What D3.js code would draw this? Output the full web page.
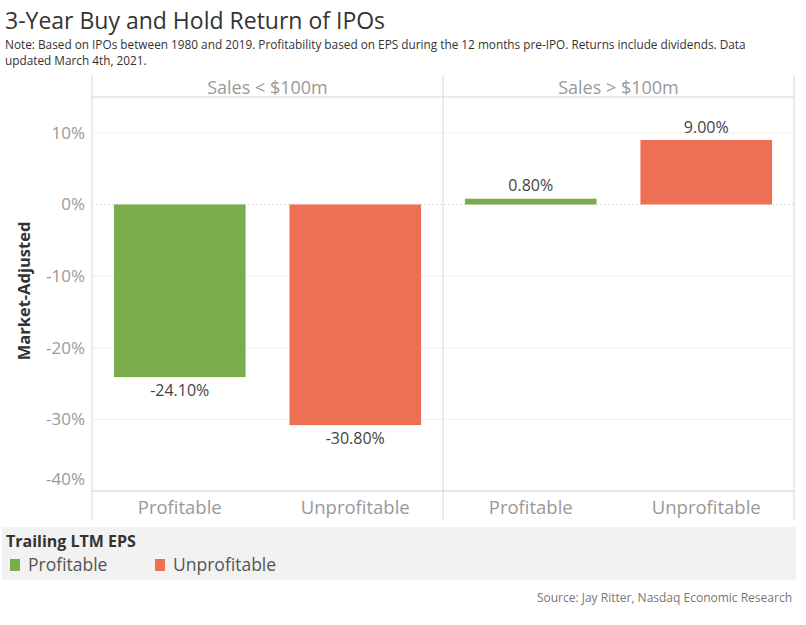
<!DOCTYPE html>
<html>
<head>
<meta charset="utf-8">
<script src="https://cdn.jsdelivr.net/npm/d3@7"></script>
<style>
  body { margin: 0; background: #fff; }
  svg { font-family: "Open Sans", sans-serif; }
</style>
</head>
<body>
<svg id="chart" width="806" height="625"></svg>
<script>
// Chart data
const panels = ["Sales < $100m", "Sales > $100m"];
const categories = ["Profitable", "Unprofitable"];
const returnsByPanel = [
    [-24.1, -30.8],   // Sales < $100m
    [0.8, 9.0]        // Sales > $100m
];
const yTicks = [10, 0, -10, -20, -30, -40];
const colors = ["#7aab4c", "#ed7055"];

const svg = d3.select("#chart");

const plotTop = 97, plotBottom = 491, plotLeft = 92, plotRight = 794;

const y = d3.scaleLinear().domain([-40, 15]).range([plotBottom, plotTop]);
const xPanel = d3.scaleBand().domain(panels).range([plotLeft, plotRight]);
const xCat = d3.scaleBand()
    .domain(categories)
    .range([0, xPanel.bandwidth()])
    .paddingInner(0.25)
    .paddingOuter(0.125);

// Title and note
svg.append("text")
    .attr("x", 5).attr("y", 29)
    .style("font-size", "23px")
    .attr("fill", "#333")
    .text("3-Year Buy and Hold Return of IPOs");

const note = [
    "Note: Based on IPOs between 1980 and 2019. Profitability based on EPS during the 12 months pre-IPO. Returns include dividends. Data",
    "updated March 4th, 2021."
];
svg.selectAll(".note").data(note).enter().append("text")
    .attr("class", "note")
    .attr("x", 5)
    .attr("y", (d, i) => 49 + i * 16)
    .style("font-size", "11.8px")
    .attr("fill", "#333")
    .text(d => d);

// Gridlines
svg.append("g").selectAll("line")
    .data(yTicks.filter(t => t !== 0))
    .enter().append("line")
    .attr("x1", plotLeft).attr("x2", plotRight)
    .attr("y1", d => y(d)).attr("y2", d => y(d))
    .attr("stroke", "#f0f0f0");

svg.append("line")
    .attr("x1", plotLeft).attr("x2", plotRight)
    .attr("y1", y(0)).attr("y2", y(0))
    .attr("stroke", "#ddd")
    .attr("stroke-dasharray", "2,2");

// Panel frame lines
[plotLeft, xPanel(panels[1]), plotRight].forEach(xv => {
    svg.append("line")
        .attr("x1", xv).attr("x2", xv)
        .attr("y1", 75).attr("y2", 520)
        .attr("stroke", "#d6d6d6");
});
[plotTop, plotBottom].forEach(yv => {
    svg.append("line")
        .attr("x1", plotLeft).attr("x2", plotRight)
        .attr("y1", yv).attr("y2", yv)
        .attr("stroke", "#d6d6d6");
});

// Y axis labels
svg.append("g").selectAll("text")
    .data(yTicks)
    .enter().append("text")
    .attr("x", 85)
    .attr("y", d => d === -40 ? y(d) - 12 : y(d))
    .attr("dy", "0.35em")
    .attr("text-anchor", "end")
    .style("font-size", "17px")
    .attr("fill", "#999")
    .text(d => d + "%");

svg.append("text")
    .attr("transform", `translate(30, ${(plotTop + plotBottom) / 2 - 3}) rotate(-90)`)
    .attr("text-anchor", "middle")
    .style("font-size", "16.5px")
    .style("font-weight", "bold")
    .attr("fill", "#333")
    .text("Market-Adjusted");

// Panels
panels.forEach((panel, pi) => {
    const g = svg.append("g").attr("transform", `translate(${xPanel(panel)},0)`);

    g.append("text")
        .attr("x", xPanel.bandwidth() / 2)
        .attr("y", 88)
        .attr("dy", "0.35em")
        .attr("text-anchor", "middle")
        .style("font-size", "18px")
        .attr("fill", "#999")
        .text(panel);

    const rows = categories.map((c, ci) => ({ cat: c, value: returnsByPanel[pi][ci], color: colors[ci] }));

    g.selectAll(".bar").data(rows).enter().append("rect")
        .attr("class", "bar")
        .attr("x", d => xCat(d.cat))
        .attr("width", xCat.bandwidth())
        .attr("y", d => y(Math.max(0, d.value)))
        .attr("height", d => Math.abs(y(d.value) - y(0)))
        .attr("fill", d => d.color);

    g.selectAll(".val").data(rows).enter().append("text")
        .attr("class", "val")
        .attr("x", d => xCat(d.cat) + xCat.bandwidth() / 2)
        .attr("y", d => d.value < 0 ? y(d.value) + 13 : y(d.value) - 13)
        .attr("dy", "0.35em")
        .attr("text-anchor", "middle")
        .style("font-size", "16px")
        .attr("fill", "#444")
        .text(d => d.value.toFixed(2) + "%");

    g.selectAll(".cat").data(categories).enter().append("text")
        .attr("class", "cat")
        .attr("x", d => xCat(d) + xCat.bandwidth() / 2)
        .attr("y", 508)
        .attr("dy", "0.35em")
        .attr("text-anchor", "middle")
        .style("font-size", "18.5px")
        .attr("fill", "#999")
        .text(d => d);
});

// Legend
svg.append("rect")
    .attr("x", 2).attr("y", 527)
    .attr("width", 794).attr("height", 53)
    .attr("fill", "#f2f2f2");

svg.append("text")
    .attr("x", 6).attr("y", 541)
    .attr("dy", "0.35em")
    .style("font-size", "16px")
    .style("font-weight", "bold")
    .attr("fill", "#333")
    .text("Trailing LTM EPS");

const legend = svg.append("g").selectAll("g")
    .data(categories)
    .enter().append("g")
    .attr("transform", (d, i) => `translate(${10 + i * 145}, 565)`);
legend.append("rect")
    .attr("x", 0).attr("y", -6)
    .attr("width", 10).attr("height", 12)
    .attr("fill", (d, i) => colors[i]);
legend.append("text")
    .attr("x", 18)
    .attr("dy", "0.35em")
    .style("font-size", "17.5px")
    .attr("fill", "#555")
    .text(d => d);

svg.append("text")
    .attr("x", 792).attr("y", 598)
    .attr("dy", "0.35em")
    .attr("text-anchor", "end")
    .style("font-size", "12px")
    .attr("fill", "#777")
    .text("Source: Jay Ritter, Nasdaq Economic Research");
</script>
</body>
</html>
